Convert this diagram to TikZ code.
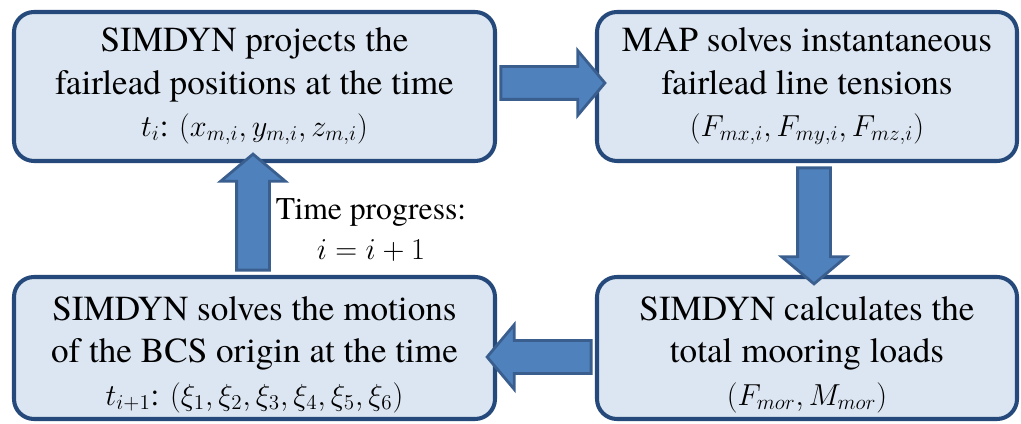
\documentclass[tikz,border=0pt]{standalone}
\usepackage{fontspec}
\setmainfont{texgyretermes}[Extension=.otf,UprightFont=*-regular,BoldFont=*-bold,
  ItalicFont=*-italic,BoldItalicFont=*-bolditalic]
\usetikzlibrary{shapes.arrows,calc}

\definecolor{boxfill}{HTML}{DCE6F2}
\definecolor{boxline}{HTML}{24497A}
\definecolor{arrfill}{HTML}{4F81BD}
\definecolor{arrline}{HTML}{3A5F8F}

% math line in a box
\newcommand{\mline}[1]{{\fontsize{18}{23.5}\selectfont#1}}

\begin{document}
\begin{tikzpicture}[
  stepbox/.style={draw=boxline,line width=2.3pt,fill=boxfill,rounded corners=0.4cm,
    align=center,inner sep=0pt,font=\fontsize{20}{24}\selectfont},
  fatarrow/.style={single arrow,draw=arrline,line width=1.6pt,fill=arrfill,
    inner sep=0.3cm,outer sep=0pt,single arrow head extend=0.32cm,
    single arrow tip angle=100}
]

% Frame
\useasboundingbox (0,0) rectangle (20.42,8.46);

% Box sizes
\def\lw{9.62}
\def\rw{8.40}
\def\th{2.98}
\def\bh{2.84}

% Steps
\node[stepbox,minimum width=\lw cm,minimum height=\th cm] (proj) at (5.09,6.73)
  {SIMDYN projects the\\fairlead positions at the time\\\mline{$t_i$: $(x_{m,i},y_{m,i},z_{m,i})$}};
\node[stepbox,minimum width=\rw cm,minimum height=\th cm] (map) at (16.14,6.73)
  {MAP solves instantaneous\\fairlead line tensions\\\mline{$(F_{mx,i},F_{my,i},F_{mz,i})$}};
\node[stepbox,minimum width=\rw cm,minimum height=\bh cm] (loads) at (16.14,1.50)
  {\rule{0pt}{0.75cm}SIMDYN calculates the\\total mooring loads\\\mline{$(F_{mor},M_{mor})$}};
\node[stepbox,minimum width=\lw cm,minimum height=\bh cm] (motion) at (5.09,1.50)
  {\rule{0pt}{0.75cm}SIMDYN solves the motions\\of the BCS origin at the time\\\mline{$t_{i+1}$: $(\xi_1,\xi_2,\xi_3,\xi_4,\xi_5,\xi_6)$}};

% Block arrows
\node[fatarrow,minimum height=2.08cm] (a1) at ($(proj.east)!0.5!(map.west)+(0,0.07)$) {};
\node[fatarrow,minimum height=2.32cm,rotate=-90] (a2) at ($(map.south)!0.5!(loads.north)+(0.14,0)$) {};
\node[fatarrow,minimum height=2.08cm,rotate=180] (a3) at ($(loads.west)!0.5!(motion.east)+(0,-0.18)$) {};
\node[fatarrow,minimum height=2.32cm,rotate=90] (a4) at ($(motion.north)!0.5!(proj.south)+(-0.03,0)$) {};

% Loop label
\node[align=center,font=\fontsize{18}{23}\selectfont,inner sep=0pt] (prog) at (7.42,3.86)
  {Time progress:\\$i=i+1$};

\end{tikzpicture}
\end{document}
